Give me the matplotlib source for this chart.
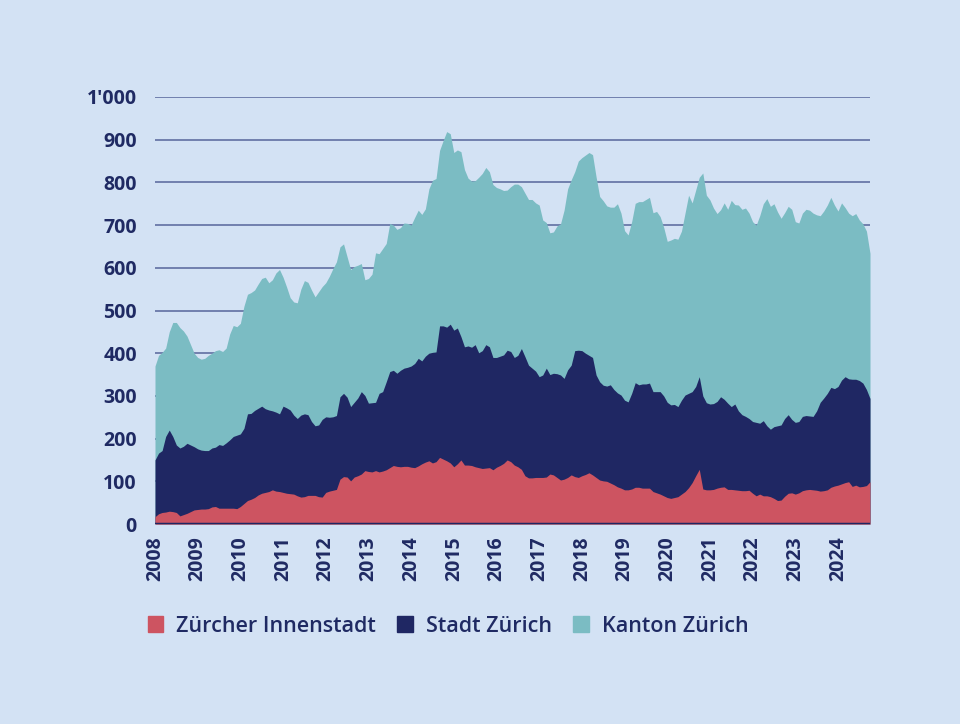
import numpy as np
import matplotlib.pyplot as plt
from matplotlib.patches import Patch

# monthly values, Jan 2008 - Oct 2024
kanton = [370, 395, 402, 412, 450, 472, 472, 460, 452, 440, 420, 400,
          390, 386, 388, 395, 400, 406, 408, 404, 412, 445, 465, 462,
          470, 510, 538, 542, 548, 562, 575, 578, 565, 572, 588, 596,
          578, 555, 530, 520, 518, 550, 570, 566, 548, 532, 544, 556,
          565, 580, 598, 614, 649, 656, 626, 596, 603, 606, 610, 572,
          575, 585, 635, 633, 645, 657, 704, 700, 690, 694, 705, 704,
          700, 718, 735, 725, 738, 785, 805, 809, 875, 898, 919, 914,
          870, 876, 872, 830, 810, 803, 804, 812, 821, 835, 825, 795,
          788, 785, 781, 782, 790, 796, 796, 790, 775, 760, 760, 752,
          747, 712, 706, 682, 684, 698, 703, 735, 785, 806, 825, 850,
          858, 864, 870, 865, 813, 767, 757, 745, 742, 742, 750, 728,
          687, 677, 708, 751, 755, 755, 760, 765, 729, 732, 720, 695,
          662, 665, 669, 667, 686, 728, 770, 752, 782, 812, 822, 770,
          759, 740, 727, 736, 752, 737, 758, 748, 747, 737, 740, 728,
          708, 700, 722, 750, 762, 744, 750, 731, 716, 729, 744, 737,
          708, 705, 728, 737, 735, 728, 724, 722, 733, 747, 765, 747,
          733, 752, 741, 728, 722, 727, 712, 703, 686, 634]

stadt = [150, 166, 172, 205, 220, 205, 185, 178, 182, 189, 185, 181,
         176, 173, 172, 172, 178, 180, 186, 184, 190, 197, 205, 208,
         211, 224, 258, 259, 266, 271, 276, 270, 267, 265, 262, 258,
         276, 272, 267, 255, 247, 255, 258, 256, 240, 230, 232, 245,
         251, 250, 251, 254, 298, 306, 297, 275, 285, 295, 310, 301,
         283, 284, 285, 306, 310, 333, 357, 360, 353, 360, 365, 367,
         370, 376, 388, 382, 393, 400, 402, 403, 464, 464, 461, 468,
         454, 459, 439, 415, 417, 414, 420, 401, 406, 420, 415, 390,
         390, 393, 396, 407, 404, 390, 395, 411, 392, 372, 365, 358,
         345, 349, 365, 350, 353, 352, 349, 341, 361, 372, 406, 407,
         406, 400, 395, 390, 349, 333, 325, 323, 326, 315, 307, 302,
         290, 286, 306, 331, 326, 328, 328, 330, 310, 310, 310, 300,
         285, 279, 280, 275, 290, 302, 306, 310, 322, 345, 300, 284,
         281, 282, 287, 298, 292, 283, 275, 281, 265, 256, 252, 247,
         240, 238, 236, 242, 230, 222, 228, 230, 232, 247, 256, 245,
         238, 240, 252, 254, 253, 252, 265, 285, 295, 306, 320, 317,
         322, 337, 345, 340, 339, 339, 336, 330, 315, 294]

innenstadt = [17, 24, 27, 28, 30, 29, 27, 19, 22, 25, 29, 33,
              34, 35, 35, 36, 40, 41, 37, 37, 37, 37, 37, 36,
              41, 48, 55, 58, 62, 68, 72, 74, 76, 80, 77, 76,
              74, 72, 71, 70, 66, 63, 64, 67, 67, 67, 64, 63,
              74, 77, 79, 81, 105, 111, 110, 101, 110, 113, 117, 125,
              123, 122, 125, 122, 124, 127, 132, 137, 135, 134, 135, 135,
              133, 132, 136, 141, 145, 148, 143, 146, 156, 152, 148, 143,
              134, 141, 150, 138, 138, 137, 134, 132, 130, 131, 132, 127,
              133, 137, 142, 150, 146, 138, 134, 128, 113, 108, 108, 109,
              109, 109, 110, 117, 115, 109, 103, 105, 109, 115, 111, 109,
              113, 116, 120, 115, 109, 103, 101, 100, 96, 92, 87, 84,
              80, 80, 82, 86, 86, 84, 84, 84, 76, 73, 70, 66,
              62, 60, 62, 64, 70, 76, 85, 97, 113, 128, 82, 80,
              80, 81, 84, 86, 87, 81, 81, 80, 79, 78, 78, 79,
              72, 66, 70, 66, 66, 64, 60, 55, 56, 65, 72, 73,
              70, 73, 78, 80, 81, 80, 79, 77, 78, 80, 86, 89,
              91, 94, 97, 99, 88, 91, 87, 88, 90, 99]

labels = ["Zürcher Innenstadt", "Stadt Zürich", "Kanton Zürich"]
years = list(range(2008, 2025))
yticks = [0, 100, 200, 300, 400, 500, 600, 700, 800, 900, 1000]
ytick_labels = ["0", "100", "200", "300", "400", "500", "600", "700", "800", "900", "1'000"]

BG = "#d3e2f4"
NAVY = "#1f2763"
RED = "#cd5461"
TEAL = "#7bbcc3"
TXT = "#1f2a63"

plt.rcParams['font.family'] = ['Open Sans', 'DejaVu Sans']

x = 2008 + np.arange(len(kanton)) / 12

fig = plt.figure(figsize=(9.6, 7.24), dpi=100, facecolor=BG)
ax = fig.add_axes([155 / 960, 200 / 724, 715 / 960, 427 / 724])
ax.set_facecolor(BG)

ax.fill_between(x, 0, kanton, color=TEAL, lw=0, zorder=2)
ax.fill_between(x, 0, stadt, color=NAVY, lw=0, zorder=3)
ax.fill_between(x, 0, innenstadt, color=RED, lw=0, zorder=4)
ax.axhline(0, color=NAVY, lw=2.5, zorder=5)

ax.set_xlim(2008, x[-1])
ax.set_ylim(0, 1000)
ax.set_yticks(yticks)
ax.set_yticklabels(ytick_labels)
ax.set_xticks(years)
ax.set_xticklabels([str(y) for y in years], rotation=90)
ax.tick_params(length=0, labelsize=14, labelcolor=TXT)
ax.tick_params(axis='y', pad=13)
ax.tick_params(axis='x', pad=9)
for t in ax.get_xticklabels() + ax.get_yticklabels():
    t.set_fontweight('bold')

ax.yaxis.grid(True, color="#56659a", lw=1.1)
ax.set_axisbelow(True)
for s in ax.spines.values():
    s.set_visible(False)

handles = [Patch(color=RED), Patch(color=NAVY), Patch(color=TEAL)]
fig.legend(handles, labels, loc='center', bbox_to_anchor=(448 / 960, 1 - 626 / 724),
           ncol=3, frameon=False, handlelength=0.72, handleheight=0.72,
           handletextpad=0.6, columnspacing=1.0, labelcolor=TXT,
           prop={'size': 15.5, 'weight': 'semibold'})

fig.savefig("out.png", dpi=100, facecolor=BG)
